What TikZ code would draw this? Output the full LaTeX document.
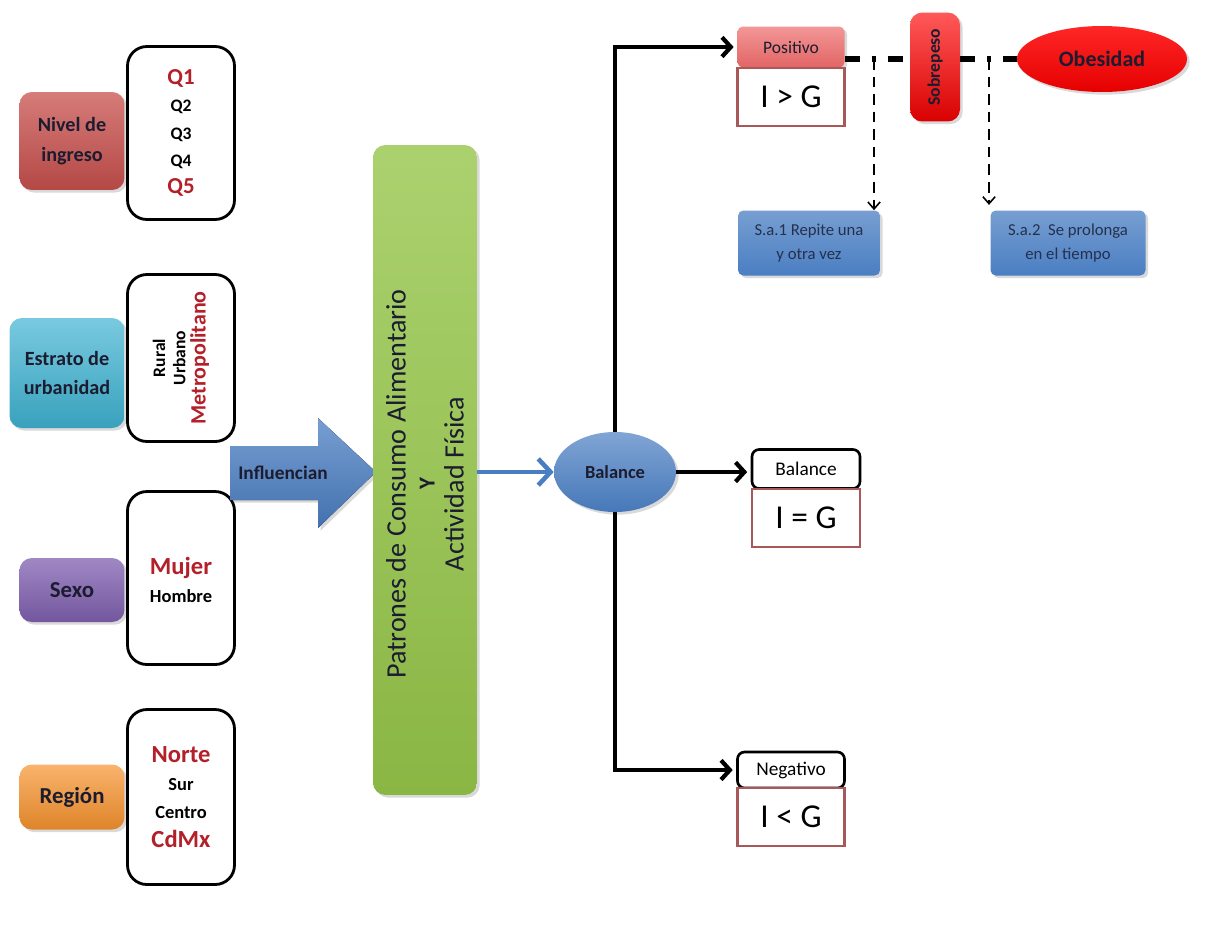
\documentclass[tikz,border=0pt]{standalone}
\usepackage{fontspec}
\setmainfont{Carlito}
\usetikzlibrary{shapes.geometric, arrows.meta, shadows}

\definecolor{rojo}{HTML}{C8504D}
\definecolor{cian}{HTML}{3FB3D2}
\definecolor{morado}{HTML}{8060B0}
\definecolor{naranja}{HTML}{F7932E}
\definecolor{verde}{HTML}{96C64A}
\definecolor{azul}{HTML}{4A7EC2}
\definecolor{vino}{HTML}{B3202A}
\definecolor{borde}{HTML}{A85858}
\definecolor{texto}{HTML}{1C1C30}
\definecolor{rosa}{HTML}{EE6A6A}

\begin{document}
\begin{tikzpicture}[x=0.02cm, y=-0.02cm,
  cat/.style={rounded corners=7pt, inner sep=0pt, align=center, text=texto,
    drop shadow={opacity=0.3, shadow xshift=1.5pt, shadow yshift=-1.5pt}},
  lista/.style={draw=black, line width=1.6pt, rounded corners=11pt, fill=white,
    inner sep=0pt, align=center, minimum width=2.14cm},
  igual/.style={draw=borde, line width=1.3pt, fill=white, inner sep=0pt,
    minimum width=2.16cm, minimum height=1.16cm, font=\fontsize{19}{22}\selectfont},
  etiq/.style={draw=black, line width=1.5pt, rounded corners=4pt, fill=white,
    inner sep=0pt, minimum width=2.16cm, font=\fontsize{11}{13}\selectfont},
  sa/.style={cat, rounded corners=3pt, top color=azul!75!white, bottom color=azul,
    minimum height=1.3cm, text=texto!80!azul, font=\fontsize{9.5}{14}\selectfont},
  negra/.style={line width=2.4pt, -{Straight Barb[length=5pt,width=11pt]}},
  guion/.style={line width=3pt, dash pattern=on 8.5pt off 6.8pt on 2.3pt off 6.8pt},
  caida/.style={line width=0.9pt, dash pattern=on 6pt off 4pt,
    -{Straight Barb[length=4pt,width=7pt]}}]
\useasboundingbox (0,0) rectangle (1212,924);

% variables
\node[cat, top color=rojo!75!white, bottom color=rojo!90!black, minimum width=2.1cm, minimum height=1.96cm,
  font=\bfseries\fontsize{11.5}{17}\selectfont] (ingreso) at (72,141) {Nivel de\\ingreso};
\node[cat, top color=cian!70!white, bottom color=cian!90!black, minimum width=2.3cm, minimum height=2.2cm,
  font=\bfseries\fontsize{11.5}{17}\selectfont] (estrato) at (67,373) {Estrato de\\urbanidad};
\node[cat, top color=morado!75!white, bottom color=morado!90!black, minimum width=2.1cm, minimum height=1.28cm,
  font=\bfseries\fontsize{13}{15}\selectfont] (sexo) at (72,590) {Sexo};
\node[cat, top color=naranja!70!white, bottom color=naranja!90!black, minimum width=2.1cm, minimum height=1.3cm,
  font=\bfseries\fontsize{13}{15}\selectfont] (region) at (72,797) {Región};

% categorias
\node[lista, minimum height=3.46cm, font=\bfseries\fontsize{10}{15.5}\selectfont] (quintil) at (181,133)
  {{\fontsize{13}{19}\selectfont\color{vino}Q1}\\Q2\\Q3\\Q4\\{\fontsize{13}{17}\selectfont\color{vino}Q5}};
\node[lista, minimum height=3.34cm] (urbano) at (181,358) {};
\node[rotate=90, align=center, font=\bfseries\fontsize{10}{11.5}\selectfont] (urbtxt) at (urbano)
  {Rural\\Urbano\\{\fontsize{12.5}{15}\selectfont\color{vino}Metropolitano}};
\node[lista, minimum height=3.46cm] (genero) at (181,578) {};
\node[align=center, font=\bfseries\fontsize{10.5}{16}\selectfont] (gentxt) at (181,580)
  {{\fontsize{14}{17}\selectfont\color{vino}Mujer}\\Hombre};
\node[lista, minimum height=3.5cm, font=\bfseries\fontsize{10.5}{16}\selectfont] (zona) at (181,797)
  {{\fontsize{14}{17}\selectfont\color{vino}Norte}\\Sur\\Centro\\{\fontsize{14}{17}\selectfont\color{vino}CdMx}};

% flecha grande
\fill[top color=azul!75!white, bottom color=azul!90!black, drop shadow={opacity=0.3, shadow xshift=1.5pt, shadow yshift=-1.5pt}]
  (230,446) -- (318,446) -- (318,418) -- (376,472) -- (318,528) -- (318,500) -- (230,500) -- cycle;
\node[font=\bfseries\fontsize{11}{13}\selectfont, text=texto] (influ) at (283,473) {Influencian};

% patrones
\node[cat, top color=verde!80!white, bottom color=verde!92!black, minimum width=2.08cm, minimum height=13cm] (patrones) at (425,470) {};
\node[rotate=90, align=center, text=texto, font=\fontsize{16}{16.5}\selectfont] (pattxt) at (425,484)
  {Patrones de Consumo Alimentario\\{\bfseries\fontsize{13}{16.5}\selectfont Y}\\Actividad Física};

% balance
\node[ellipse, cat, top color=azul!70!white, bottom color=azul!95!black, minimum width=2.44cm, minimum height=1.6cm,
  font=\bfseries\fontsize{10.5}{13}\selectfont] (bal) at (615,472) {Balance};
\draw[azul, line width=2.6pt, -{Straight Barb[length=7pt,width=15pt]}] (patrones.east |- bal) -- (bal.west);

% positivo
\node[cat, rounded corners=3pt, top color=rosa!70!white, bottom color=rosa!95!black, minimum width=2.14cm, minimum height=0.82cm,
  font=\fontsize{10}{12}\selectfont] (pos) at (791,47) {Positivo};
\node[igual, minimum width=2.14cm] (ig1) at (791,97) {I > G};
\node[cat, top color=red!65!white, bottom color=red!85!black, minimum width=1cm, minimum height=2.18cm] (sob) at (935,67) {};
\node[rotate=90, font=\bfseries\fontsize{10}{12}\selectfont, text=texto] (sobtxt) at (sob) {Sobrepeso};
\node[ellipse, cat, top color=red!85!white, bottom color=red!90!black, minimum width=3.4cm, minimum height=1.32cm,
  font=\bfseries\fontsize{12.5}{15}\selectfont] (obes) at (1102,59) {Obesidad};
\coordinate (d1) at (874,59);
\coordinate (d2) at (989,59);
\draw[guion] (pos.east |- d1) -- (sob.west |- d1);
\draw[guion] (sob.east |- d1) -- (obes.west);

\node[sa, minimum width=2.84cm] (sa1) at (809,243) {S.a.1 Repite una\\y otra vez};
\node[sa, minimum width=3.1cm] (sa2) at (1068,243) {S.a.2\ \ Se prolonga\\en el tiempo};
\draw[caida] (d1) -- (d1 |- sa1.north);
\draw[caida] (d2) -- ([yshift=3pt]d2 |- sa2.north);

% balance / negativo
\node[etiq, minimum height=0.78cm] (balt) at (806,469) {Balance};
\node[igual] (ig2) at (806,518) {I = G};
\node[etiq, minimum width=2.14cm, minimum height=0.72cm] (neg) at (791,770) {Negativo};
\node[igual, minimum width=2.14cm] (ig3) at (791,817) {I < G};

% conectores
\draw[negra] (bal.north) |- ([xshift=-2pt]pos.west);
\draw[negra] (bal.south) |- ([xshift=-2pt]neg.west);
\draw[negra] (bal.east) -- ([xshift=-2pt]bal.east -| balt.west);

\end{tikzpicture}
\end{document}
